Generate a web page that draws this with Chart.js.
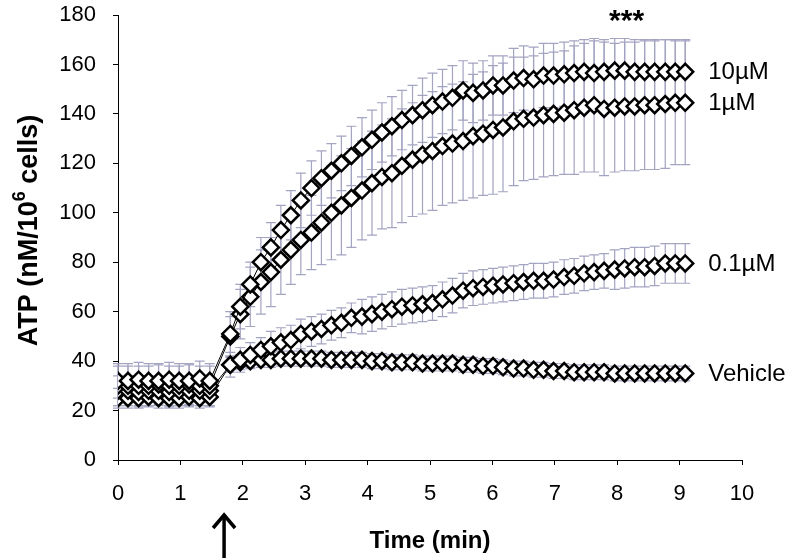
<!DOCTYPE html>
<html>
<head>
<meta charset="utf-8">
<script src="https://cdn.jsdelivr.net/npm/chart.js@4.4.1/dist/chart.umd.min.js"></script>
<style>
  html, body { margin: 0; padding: 0; background: #ffffff; }
  #wrap { width: 792px; height: 560px; }
</style>
</head>
<body>
<div id="wrap"><canvas id="c" width="792" height="560"></canvas></div>
<script>
// ---------- DATA ----------
const timeMin = [
  0.00, 0.16, 0.33, 0.49, 0.65, 0.82, 0.98, 1.14, 1.31, 1.47,
  1.80, 1.96, 2.12, 2.29, 2.45, 2.61, 2.77, 2.93, 3.10, 3.26,
  3.42, 3.58, 3.74, 3.91, 4.07, 4.23, 4.39, 4.55, 4.72, 4.88,
  5.04, 5.20, 5.36, 5.53, 5.69, 5.85, 6.01, 6.17, 6.34, 6.50,
  6.66, 6.82, 6.98, 7.15, 7.31, 7.47, 7.63, 7.79, 7.96, 8.12,
  8.28, 8.44, 8.60, 8.77, 8.93, 9.09
];
const seriesNames = ["10\u00B5M", "1\u00B5M", "0.1\u00B5M", "Vehicle"];

const atp10uM = [
  32, 32, 32.5, 32, 32, 32.5, 32, 32, 33, 32,
  51, 62, 71, 80, 86, 93, 99, 105, 110, 114,
  117, 120, 123, 126.5, 129.5, 132.5, 135, 137.5, 139.5, 141.5,
  143.5, 145, 146.5, 149.5, 148.5, 149.5, 151.5, 151.5, 153.5, 154.5,
  154, 155.5, 155.5, 156, 156.5, 157, 156.5, 157, 157.5, 157.5,
  157, 157, 157, 157, 157, 157
];
const err10uM = [
  7, 7, 7, 7, 7, 7, 7, 7, 7, 7,
  9, 9, 9, 10, 10, 10, 10, 11, 11, 11,
  11, 11, 12, 12, 12, 12, 12, 12, 12, 13,
  13, 13, 13, 12, 12, 12, 12, 12, 13, 13,
  13, 13, 13, 13, 13, 13, 13, 13, 13, 13,
  13, 13, 13, 13, 13, 13
];
const atp1uM = [
  30, 30, 30, 30, 30.5, 30, 30, 30.5, 30, 30,
  50, 59, 66, 72, 76, 81, 85, 89, 92, 96,
  100, 103, 106, 109, 112, 114.5, 116, 119, 121.5, 123.5,
  125, 127, 128, 129, 131, 132, 133.5, 134.5, 137, 138,
  138.5, 139.5, 140, 140.5, 141.5, 142.5, 143.5, 142, 142.5, 143,
  143, 143.5, 143.5, 144, 144.5, 144.5
];
const err1uM = [
  8, 8, 8, 8, 8, 8, 8, 8, 8, 8,
  8, 10, 12, 13, 14, 14, 14, 14, 15, 17,
  19, 20, 20, 20, 21, 21, 22, 23, 23, 24,
  24, 24, 24, 24, 25, 25, 26, 26, 26, 25,
  25, 25, 25, 25, 26, 26, 27, 27, 26, 26,
  26, 26, 26, 26, 25, 25
];
const atp01uM = [
  28, 28, 27.5, 28, 28, 27.5, 28, 28, 28, 28,
  38.5, 40.5, 42.5, 44.5, 46, 47.5, 48.5, 51, 52, 53,
  54.5, 55.5, 57.5, 58, 59, 60, 61, 62, 62.5, 63,
  63.5, 65, 66.5, 68.5, 69.5, 70, 70.5, 71, 71.5, 72,
  72.5, 72.5, 73, 74, 74.5, 75.5, 76, 76.5, 77, 77.5,
  78, 78, 78.5, 79.5, 79.5, 79.5
];
const err01uM = [
  6, 6, 6, 6, 6, 6, 6, 6, 6, 6,
  5, 5, 5, 5, 6, 6, 6, 6, 6, 6,
  6, 6, 6, 7, 7, 7, 7, 7, 7, 7,
  7, 7, 7, 7, 7, 7, 7, 7, 7, 7,
  7, 7, 7, 7, 7, 7, 7, 7, 8, 8,
  8, 8, 8, 8, 8, 8
];
const atpVehicle = [
  25, 25, 25, 25.5, 25, 25, 25, 25.5, 25, 25.5,
  38.5, 39.5, 40, 40.5, 40.5, 41, 41, 41, 41, 41,
  40.5, 40.5, 40.5, 40.5, 40, 40, 39.5, 39.5, 39.5, 39,
  39, 39, 39, 38.5, 38.5, 38, 38, 37.5, 37, 37,
  36.5, 36.5, 36, 36, 35.5, 35.5, 35.5, 35.5, 35, 35,
  35, 35, 35, 35, 35, 35
];
const errVehicle = [
  4, 4, 4, 4, 4, 4, 4, 4, 4, 4,
  3, 3, 3, 3, 3, 3, 3, 3, 3, 3,
  3, 3, 3, 3, 3, 3, 3, 3, 3, 3,
  3, 3, 3, 3, 3, 3, 3, 3, 3, 3,
  3, 3, 3, 3, 3, 3, 3, 3, 3, 3,
  3, 3, 3, 3, 3, 3
];
const xTicksMin = 0, xTicksMax = 10, xStep = 1;
const yTicksMin = 0, yTicksMax = 180, yStep = 20;
const injectionTime = 1.7;
const significance = "***";

// ---------- BUILD ----------
const allValues = [atp10uM, atp1uM, atp01uM, atpVehicle];
const allErrors = [err10uM, err1uM, err01uM, errVehicle];

const FONT = "'Liberation Sans', Arial, Helvetica, sans-serif";

const datasets = allValues.map((vals, i) => ({
  label: seriesNames[i],
  data: vals.map((v, j) => ({ x: timeMin[j], y: v })),
  borderColor: '#000000',
  borderWidth: 1,
  pointStyle: 'rectRot',
  pointRadius: 8,
  pointBorderWidth: 2.5,
  pointBorderColor: '#000000',
  pointBackgroundColor: '#ffffff',
  fill: false,
  tension: 0,
  errors: allErrors[i]
}));

const errorBarPlugin = {
  id: 'errorBars',
  beforeDatasetsDraw(chart) {
    const ctx = chart.ctx;
    const xs = chart.scales.x, ys = chart.scales.y;
    ctx.save();
    ctx.strokeStyle = '#A3A3C2';
    ctx.lineWidth = 1.2;
    for (let d = chart.data.datasets.length - 1; d >= 0; d--) {
      const ds = chart.data.datasets[d];
      ds.data.forEach((p, j) => {
        const e = ds.errors[j];
        const px = xs.getPixelForValue(p.x);
        const top = ys.getPixelForValue(p.y + e);
        const bot = ys.getPixelForValue(p.y - e);
        ctx.beginPath();
        ctx.moveTo(px, top); ctx.lineTo(px, bot);
        ctx.moveTo(px - 5, top); ctx.lineTo(px + 5, top);
        ctx.moveTo(px - 5, bot); ctx.lineTo(px + 5, bot);
        ctx.stroke();
      });
    }
    ctx.restore();
  }
};

const annotPlugin = {
  id: 'annots',
  afterDraw(chart) {
    const ctx = chart.ctx;
    const xs = chart.scales.x, ys = chart.scales.y;
    ctx.save();
    ctx.fillStyle = '#000';
    // series labels at right of last point
    ctx.font = "24px " + FONT;
    ctx.textAlign = 'left';
    ctx.textBaseline = 'middle';
    chart.data.datasets.forEach((ds) => {
      const last = ds.data[ds.data.length - 1];
      const px = xs.getPixelForValue(last.x);
      const py = ys.getPixelForValue(last.y);
      ctx.fillText(ds.label, px + 23, py + 1);
    });
    // significance stars
    ctx.font = "bold 30px " + FONT;
    ctx.textAlign = 'center';
    ctx.textBaseline = 'alphabetic';
    ctx.fillText(significance, xs.getPixelForValue(8.15), 30);

    // y-axis title with superscript
    const yMid = (chart.chartArea.top + chart.chartArea.bottom) / 2 - 7;
    ctx.translate(30, yMid);
    ctx.rotate(-Math.PI / 2);
    const big = "bold 27px " + FONT, small = "bold 18px " + FONT;
    const p1 = "ATP (nM/10", p2 = "6", p3 = " cells)";
    ctx.font = big; const w1 = ctx.measureText(p1).width, w3 = ctx.measureText(p3).width;
    ctx.font = small; const w2 = ctx.measureText(p2).width;
    let x0 = -(w1 + w2 + w3) / 2;
    ctx.textAlign = 'left';
    ctx.textBaseline = 'middle';
    ctx.font = big; ctx.fillText(p1, x0, 0);
    ctx.font = small; ctx.fillText(p2, x0 + w1, -10);
    ctx.font = big; ctx.fillText(p3, x0 + w1 + w2, 0);
    ctx.restore();

    // injection arrow
    ctx.save();
    const ax = xs.getPixelForValue(injectionTime);
    ctx.strokeStyle = '#000';
    ctx.lineWidth = 3.5;
    ctx.lineCap = 'butt';
    ctx.beginPath();
    ctx.moveTo(ax, 558); ctx.lineTo(ax, 516);
    ctx.stroke();
    ctx.lineJoin = 'miter';
    ctx.beginPath();
    ctx.moveTo(ax - 11, 528); ctx.lineTo(ax, 515); ctx.lineTo(ax + 11, 528);
    ctx.stroke();
    ctx.restore();
  }
};

new Chart(document.getElementById('c'), {
  type: 'line',
  data: { datasets },
  options: {
    responsive: false,
    animation: false,
    events: [],
    layout: { padding: { left: 0, right: 50, top: 15, bottom: 0 } },
    plugins: { legend: { display: false }, tooltip: { enabled: false } },
    scales: {
      x: {
        type: 'linear', min: xTicksMin, max: xTicksMax,
        ticks: { stepSize: xStep, color: '#000', font: { family: FONT, size: 22 }, padding: 16, maxRotation: 0 },
        grid: { drawOnChartArea: false, drawTicks: true, tickLength: 5, color: '#000' },
        border: { color: '#000', width: 1 },
        title: { display: true, text: 'Time (min)', color: '#000', font: { family: FONT, size: 24, weight: 'bold' }, padding: { top: 9 } },
        afterFit(s) { s.height = 100; s.paddingLeft = 0; s.paddingRight = 0; }
      },
      y: {
        type: 'linear', min: yTicksMin, max: yTicksMax,
        ticks: { stepSize: yStep, color: '#000', font: { family: FONT, size: 22 }, padding: 17 },
        grid: { drawOnChartArea: false, drawTicks: true, tickLength: 5, color: '#000' },
        border: { color: '#000', width: 1 },
        afterFit(s) { s.width = 118; s.paddingTop = 0; s.paddingBottom = 0; }
      }
    }
  },
  plugins: [errorBarPlugin, annotPlugin]
});
</script>
</body>
</html>
